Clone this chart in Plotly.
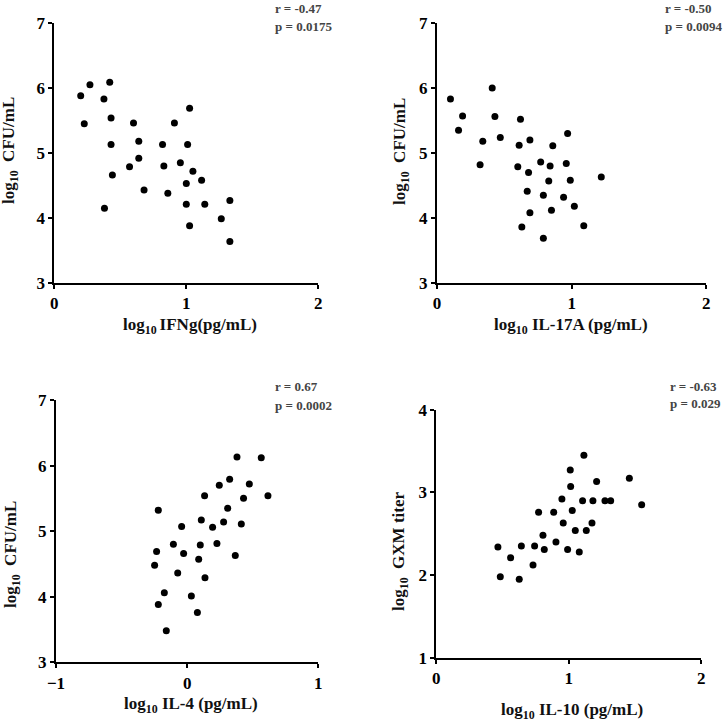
import plotly.graph_objects as go

# Panel 1: IFNg vs CFU
ifng_x = [0.20, 0.227, 0.27, 0.376, 0.42, 0.43, 0.43, 0.44, 0.38, 0.60, 0.64, 0.64, 0.57, 0.68, 0.82,
          0.83, 0.86, 0.91, 0.955, 1.025, 1.01, 1.05, 1.00, 1.00, 1.025, 1.116, 1.14, 1.265, 1.33, 1.33]
ifng_y = [5.88, 5.45, 6.05, 5.83, 6.09, 5.54, 5.13, 4.66, 4.15, 5.46, 5.18, 4.92, 4.79, 4.43, 5.13,
          4.80, 4.38, 5.46, 4.85, 5.69, 5.13, 4.72, 4.53, 4.21, 3.88, 4.58, 4.21, 3.99, 4.27, 3.64]

# Panel 2: IL-17A vs CFU
il17_x = [0.10, 0.19, 0.16, 0.34, 0.32, 0.41, 0.43, 0.47, 0.62, 0.61, 0.60, 0.69, 0.68, 0.67, 0.69,
          0.63, 0.77, 0.83, 0.79, 0.79, 0.84, 0.86, 0.85, 0.97, 0.96, 0.99, 0.94, 1.02, 1.09, 1.22]
il17_y = [5.83, 5.57, 5.35, 5.18, 4.82, 6.00, 5.56, 5.24, 5.52, 5.12, 4.79, 5.20, 4.70, 4.41, 4.08,
          3.86, 4.86, 4.57, 4.35, 3.69, 4.80, 5.11, 4.12, 5.30, 4.84, 4.58, 4.32, 4.18, 3.88, 4.63]

# Panel 3: IL-4 vs CFU
il4_x = [-0.248, -0.233, -0.22, -0.22, -0.174, -0.159, -0.105, -0.072, -0.042, -0.027, 0.032, 0.078,
         0.088, 0.10, 0.108, 0.133, 0.136, 0.194, 0.227, 0.245, 0.278, 0.309, 0.324, 0.367, 0.38,
         0.413, 0.43, 0.474, 0.565, 0.616]
il4_y = [4.48, 4.69, 5.32, 3.88, 4.06, 3.48, 4.80, 4.36, 5.07, 4.66, 4.01, 3.76, 4.57, 4.79, 5.17,
         5.54, 4.29, 5.06, 4.81, 5.70, 5.14, 5.35, 5.79, 4.63, 6.13, 5.11, 5.50, 5.72, 6.12, 5.54]

# Panel 4: IL-10 vs GXM titer
il10_x = [0.465, 0.483, 0.561, 0.626, 0.642, 0.73, 0.742, 0.772, 0.805, 0.815, 0.886, 0.903, 0.948,
          0.958, 0.991, 1.011, 1.014, 1.026, 1.049, 1.079, 1.104, 1.114, 1.132, 1.175, 1.182, 1.21,
          1.273, 1.316, 1.457, 1.55]
il10_y = [2.34, 1.98, 2.21, 1.95, 2.35, 2.12, 2.35, 2.76, 2.48, 2.31, 2.76, 2.40, 2.92, 2.63, 2.31,
          3.27, 3.07, 2.78, 2.54, 2.28, 2.90, 3.45, 2.54, 2.63, 2.90, 3.13, 2.90, 2.90, 3.17, 2.85]

stats = [("r = -0.47", "p = 0.0175"), ("r = -0.50", "p = 0.0094"),
         ("r = 0.67", "p = 0.0002"), ("r = -0.63", "p = 0.029")]
x_titles = ["log<sub>10 </sub>IFNg(pg/mL)", "log<sub>10</sub> IL-17A (pg/mL)",
            "log<sub>10</sub> IL-4 (pg/mL)", "log<sub>10</sub> IL-10 (pg/mL)"]
y_titles = ["log<sub>10</sub>  CFU/mL", "log<sub>10</sub>  CFU/mL",
            "log<sub>10</sub>  CFU/mL", "log<sub>10</sub>  GXM titer"]
x_ranges = [[0, 2], [0, 2], [-1, 1], [0, 2]]
y_ranges = [[3, 7], [3, 7], [3, 7], [1, 4]]
x_ticks = [[0, 1, 2], [0, 1, 2], [-1, 0, 1], [0, 1, 2]]
y_ticks = [[3, 4, 5, 6, 7], [3, 4, 5, 6, 7], [3, 4, 5, 6, 7], [1, 2, 3, 4]]

W = 726.0
# pixel layout: (x_left, x_right, y_top, y_bottom)
boxes = [(54.3, 318.3, 23, 283), (437, 706.3, 23, 283),
         (56, 318.3, 400, 662.3), (436.3, 701.3, 409.7, 657.7)]
stat_pos = [(273, 8, 26), (663, 8, 26), (273, 386, 405), (668, 386, 404)]
xt_pos = [(190, 326), (571, 326), (191, 705), (572, 711)]
yt_pos = [(10, 151), (401, 152), (12, 555), (400, 551)]

FONT = "Liberation Serif"
datasets = [(ifng_x, ifng_y), (il17_x, il17_y), (il4_x, il4_y), (il10_x, il10_y)]

fig = go.Figure()
layout = dict(width=726, height=726, margin=dict(l=0, r=0, t=0, b=0, autoexpand=False),
              paper_bgcolor="white", plot_bgcolor="white", showlegend=False)
annotations = []
for i, (xs, ys) in enumerate(datasets):
    n = "" if i == 0 else str(i + 1)
    fig.add_trace(go.Scatter(x=xs, y=ys, mode="markers",
                             marker=dict(color="black", size=7),
                             xaxis="x" + n, yaxis="y" + n))
    xl, xr, yt, yb = boxes[i]
    common = dict(showline=True, linecolor="black", linewidth=2, ticks="outside",
                  ticklen=4, tickwidth=2, tickcolor="black", showgrid=False, zeroline=False,
                  automargin=False,
                  tickfont=dict(family=FONT, size=17, color="black", weight="bold"))
    layout["xaxis" + n] = dict(domain=[xl / W, xr / W], range=x_ranges[i], tickvals=x_ticks[i],
                               anchor="y" + n, **common)
    layout["yaxis" + n] = dict(domain=[1 - yb / W, 1 - yt / W], range=y_ranges[i], tickvals=y_ticks[i],
                               anchor="x" + n, **common)

    sx, ry, py = stat_pos[i]
    for txt, yy in ((stats[i][0], ry), (stats[i][1], py)):
        annotations.append(dict(text=txt, xref="paper", yref="paper", x=sx / W, y=1 - yy / W,
                                xanchor="left", yanchor="middle", showarrow=False,
                                font=dict(family=FONT, size=13, color="#444444", weight="bold")))
    tx, ty = xt_pos[i]
    annotations.append(dict(text=x_titles[i], xref="paper", yref="paper", x=tx / W, y=1 - ty / W,
                            xanchor="center", yanchor="middle", showarrow=False,
                            font=dict(family=FONT, size=17, color="#111111", weight="bold")))
    yx, yy = yt_pos[i]
    annotations.append(dict(text=y_titles[i], xref="paper", yref="paper", x=yx / W, y=1 - yy / W,
                            xanchor="center", yanchor="middle", showarrow=False, textangle=-90,
                            font=dict(family=FONT, size=17, color="#111111", weight="bold")))

layout["annotations"] = annotations
fig.update_layout(**layout)
fig.write_html("out.html", config={"displayModeBar": False},
               post_script="document.body.style.margin='0';document.body.style.padding='0';"
                           "document.documentElement.style.overflow='hidden';")
